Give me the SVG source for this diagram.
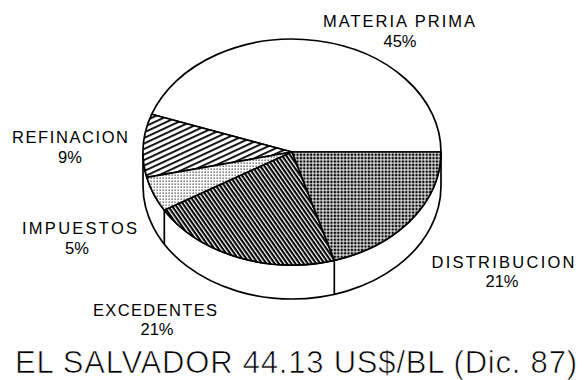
<svg xmlns="http://www.w3.org/2000/svg" width="586" height="380" viewBox="0 0 586 380">
<style>
.lbl{font-family:"Liberation Sans",Arial,sans-serif;font-size:16.5px;fill:#000;text-anchor:middle}
.ttl{font-family:"Liberation Sans",Arial,sans-serif;font-size:31px;fill:#000;text-anchor:start;stroke:#fff;stroke-width:0.7}
.edge{stroke:#000;stroke-width:1.7;stroke-linejoin:round;fill:none}
</style>
<defs>
<pattern id="hRef" width="5" height="5" patternUnits="userSpaceOnUse" patternTransform="rotate(-25)">
<rect width="5" height="5" fill="#fff"/><rect y="0" width="5" height="1.8" fill="#000"/>
</pattern>
<pattern id="dImp" width="3" height="3" patternUnits="userSpaceOnUse">
<rect width="3" height="3" fill="#fff"/><rect x="0.5" y="0.5" width="1.3" height="1.3" fill="#444"/>
</pattern>
<pattern id="hExc" width="3.4" height="3.4" patternUnits="userSpaceOnUse" patternTransform="rotate(55)">
<rect width="3.4" height="3.4" fill="#fff"/><rect y="0" width="3.4" height="2.1" fill="#000"/>
</pattern>
<pattern id="gDis" width="3.4" height="3.4" patternUnits="userSpaceOnUse">
<rect width="3.4" height="3.4" fill="#fff"/><rect x="0.5" y="0.5" width="2.4" height="2.4" fill="#000"/>
</pattern>
</defs>
<g id="side">
<path class="edge" style="fill:#fff" d="M143,152 A149,113 0 0 0 441,152 L441,186 A149,113 0 0 1 143,186 Z"/>
<line class="edge" x1="164.3" y1="210.2" x2="164.3" y2="244.2"/>
<line class="edge" x1="334.3" y1="260.3" x2="334.3" y2="294.3"/>
</g>
<g id="materia-prima">
<path class="edge" style="fill:#fff" d="M292,152 L441,152 A149,113 0 0 0 151.6,114.3 Z"/>
<text class="lbl" x="399" y="27" textLength="152" lengthAdjust="spacing">MATERIA PRIMA</text>
<text class="lbl" x="400" y="47">45%</text>
</g>
<g id="refinacion">
<path class="edge" style="fill:url(#hRef)" d="M292,152 L151.6,114.3 A149,113 0 0 0 146.8,177.4 Z"/>
<text class="lbl" x="70" y="143" textLength="116" lengthAdjust="spacing">REFINACION</text>
<text class="lbl" x="70" y="163">9%</text>
</g>
<g id="impuestos">
<path class="edge" style="fill:url(#dImp)" d="M292,152 L146.8,177.4 A149,113 0 0 0 164.3,210.2 Z"/>
<text class="lbl" x="79.5" y="234" textLength="115" lengthAdjust="spacing">IMPUESTOS</text>
<text class="lbl" x="77" y="254">5%</text>
</g>
<g id="excedentes">
<path class="edge" style="fill:url(#hExc)" d="M292,152 L164.3,210.2 A149,113 0 0 0 334.3,260.3 Z"/>
<text class="lbl" x="155" y="316" textLength="124" lengthAdjust="spacing">EXCEDENTES</text>
<text class="lbl" x="157" y="335">21%</text>
</g>
<g id="distribucion">
<path class="edge" style="fill:url(#gDis)" d="M292,152 L334.3,260.3 A149,113 0 0 0 441,152 Z"/>
<text class="lbl" x="503" y="268" textLength="143" lengthAdjust="spacing">DISTRIBUCION</text>
<text class="lbl" x="502" y="287">21%</text>
</g>
<g id="title">
<text class="ttl" x="15" y="373" textLength="562" lengthAdjust="spacing">EL SALVADOR 44.13 US$/BL (Dic. 87)</text>
</g>
</svg>
